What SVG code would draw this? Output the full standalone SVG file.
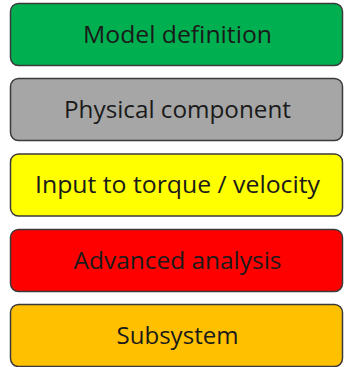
<svg xmlns="http://www.w3.org/2000/svg" width="344" height="367" viewBox="0 0 344 367">
<style>
.b{stroke:#3a3a3a;stroke-width:1.5}
.t{font-family:"Open Sans","Liberation Sans",sans-serif;font-size:24px;fill:#1a1a1a;text-anchor:middle}
</style>
<rect width="344" height="367" fill="#ffffff"/>
<g id="model-definition"><rect class="b" x="10.5" y="3.5" width="332" height="62" rx="8" fill="#00B050"/><text class="t" x="177.5" y="42.5" textLength="189" lengthAdjust="spacingAndGlyphs">Model definition</text></g>
<g id="physical-component"><rect class="b" x="10.5" y="78.5" width="332" height="62" rx="8" fill="#A6A6A6"/><text class="t" x="177.5" y="117.5" textLength="227" lengthAdjust="spacingAndGlyphs">Physical component</text></g>
<g id="input-torque-velocity"><rect class="b" x="10.5" y="154" width="332" height="62" rx="8" fill="#FFFF00"/><text class="t" x="177.5" y="193.3" textLength="285" lengthAdjust="spacingAndGlyphs">Input to torque / velocity</text></g>
<g id="advanced-analysis"><rect class="b" x="10.5" y="229.5" width="332" height="62" rx="8" fill="#FF0000"/><text class="t" x="177.5" y="268.8" textLength="208" lengthAdjust="spacingAndGlyphs">Advanced analysis</text></g>
<g id="subsystem"><rect class="b" x="10.5" y="304.5" width="332" height="62" rx="8" fill="#FFC000"/><text class="t" x="177.5" y="343.8" textLength="122" lengthAdjust="spacingAndGlyphs">Subsystem</text></g>
<g id="connectors"></g>
</svg>
